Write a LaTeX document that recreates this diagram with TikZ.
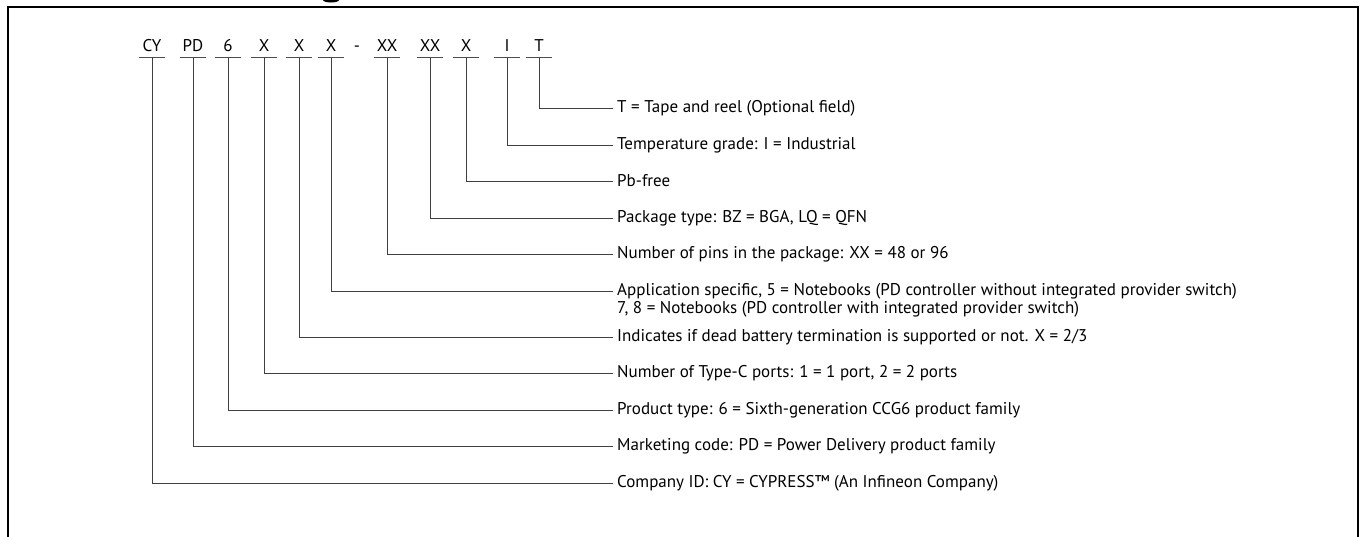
\documentclass[tikz,border=0pt]{standalone}
\usepackage{fontspec}
\setmainfont{PT Sans}
\usepackage{tikz}
\tikzstyle{cd}=[anchor=south, minimum width=25pt, inner xsep=0pt, inner ysep=5pt, text height=11.5pt, text depth=0pt, font=\fontsize{17}{18}\selectfont]
\tikzstyle{lbl}=[anchor=west, inner xsep=4pt, inner ysep=0pt, font=\fontsize{17}{18}\selectfont]
\tikzstyle{bar}=[line width=1pt, black!70]
\tikzstyle{conn}=[line width=1pt, black!75]
\tikzstyle{frame}=[line width=2.4pt, black]

\begin{document}
\begin{tikzpicture}[x=1pt, y=-1pt]
    \useasboundingbox (0,0) rectangle (1364,536);
    % outer frame, open at the bottom
    \draw[frame] (8,545) -- (8,7) -- (1358,7) -- (1358,545);
    \fill (331,0) ellipse [x radius=8, y radius=2.5];

    % code fields
    \node[cd] (CY) at (152, 57) {CY};
    \node[cd] (PD) at (193, 57) {PD};
    \node[cd] (G) at (228, 57) {6};
    \node[cd] (XA) at (264, 57) {X};
    \node[cd] (XB) at (299, 57) {X};
    \node[cd] (XC) at (331, 57) {X};
    \node[cd] (dash) at (357, 57) {-};
    \node[cd] (XXA) at (387, 57) {XX};
    \node[cd] (XXB) at (430, 57) {XX};
    \node[cd] (XD) at (466, 57) {X};
    \node[cd] (I) at (507, 57) {I};
    \node[cd] (T) at (539, 57) {T};
    \foreach \n in {CY, PD, G, XA, XB, XC, XXA, XXB, XD, I, T}
        \draw[bar] (\n.south west) -- (\n.south east);

    % descriptions
    \node[lbl] (lT) at (613, 108) {T = Tape and reel (Optional field)};
    \node[lbl] (lI) at (613, 145) {Temperature grade: I = Industrial};
    \node[lbl] (lXD) at (613, 181) {Pb-free};
    \node[lbl] (lXXB) at (613, 218) {Package type: BZ = BGA, LQ = QFN};
    \node[lbl] (lXXA) at (613, 254) {Number of pins in the package: XX = 48 or 96};
    \node[lbl] (lXC) at (613, 291) {Application specific, 5 = Notebooks (PD controller without integrated provider switch)};
    \node[lbl] (lXC2) at (613, 309) {7, 8 = Notebooks (PD controller with integrated provider switch)};
    \node[lbl] (lXB) at (613, 337) {Indicates if dead battery termination is supported or not. X = 2/3};
    \node[lbl] (lXA) at (613, 373) {Number of Type-C ports: 1 = 1 port, 2 = 2 ports};
    \node[lbl] (lG) at (613, 410) {Product type: 6 = Sixth-generation CCG6 product family};
    \node[lbl] (lPD) at (613, 446) {Marketing code: PD = Power Delivery product family};
    \node[lbl] (lCY) at (613, 483) {Company ID: CY = CYPRESS™ (An Infineon Company)};

    % connectors
    \foreach \n in {CY, PD, G, XA, XB, XC, XXA, XXB, XD, I, T}
        \draw[conn] (\n.south) |- (l\n.west);
\end{tikzpicture}
\end{document}
